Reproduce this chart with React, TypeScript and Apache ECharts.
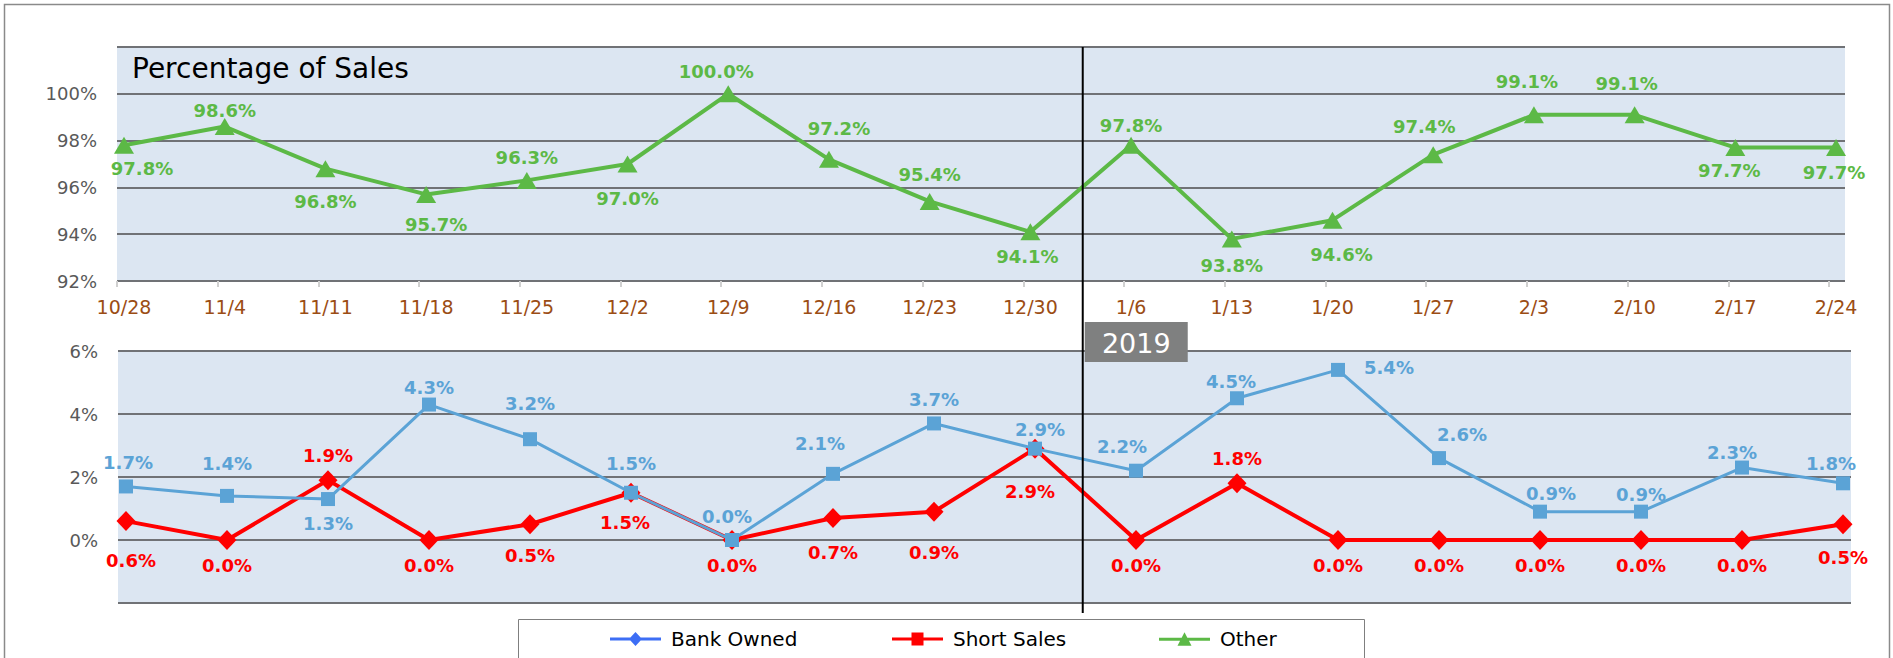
import React, { useEffect, useRef } from 'react';
import * as echarts from 'echarts';

const categories = ['10/28', '11/4', '11/11', '11/18', '11/25', '12/2', '12/9', '12/16', '12/23', '12/30', '1/6', '1/13', '1/20', '1/27', '2/3', '2/10', '2/17', '2/24'];
const otherValues = [97.8, 98.6, 96.8, 95.7, 96.3, 97.0, 100.0, 97.2, 95.4, 94.1, 97.8, 93.8, 94.6, 97.4, 99.1, 99.1, 97.7, 97.7];
const bankOwnedValues = [1.7, 1.4, 1.3, 4.3, 3.2, 1.5, 0.0, 2.1, 3.7, 2.9, 2.2, 4.5, 5.4, 2.6, 0.9, 0.9, 2.3, 1.8];
const shortSalesValues = [0.6, 0.0, 1.9, 0.0, 0.5, 1.5, 0.0, 0.7, 0.9, 2.9, 0.0, 1.8, 0.0, 0.0, 0.0, 0.0, 0.0, 0.5];

const otherLabelPos = ['bottom', 'top', 'bottom', 'bottom', 'top', 'bottom', 'top', 'top', 'top', 'bottom', 'top', 'bottom', 'bottom', 'top', 'top', 'top', 'bottom', 'bottom'];
const bankLabelPos = ['top', 'top', 'bottom', 'top', 'top', 'top', 'top', 'top', 'top', 'top', 'top', 'top', 'right', 'top', 'top', 'top', 'top', 'top'];
const shortLabelPos = ['bottom', 'bottom', 'top', 'bottom', 'bottom', 'bottom', 'bottom', 'bottom', 'bottom', 'bottom', 'bottom', 'top', 'bottom', 'bottom', 'bottom', 'bottom', 'bottom', 'bottom'];

// small label nudges (dx, dy) to mimic the original label placement
const otherLabelShift: Record<number, number[]> = {
  0: [18, -1], 1: [0, 8], 2: [0, 8], 3: [10, 6], 4: [0, 2], 5: [0, 10], 6: [-12, 2], 7: [10, -6], 8: [0, -2],
  9: [-3, 0], 10: [0, 5], 11: [0, 2], 12: [9, 10], 13: [-9, -4], 14: [-7, -9], 15: [-8, -7], 16: [-6, -2], 17: [-2, 0],
};
const bankLabelShift: Record<number, number[]> = {
  0: [2, 0], 1: [0, -8], 3: [0, 7], 4: [0, -12], 5: [0, -5], 6: [-5, 0], 7: [-13, -6], 9: [5, 5], 10: [-14, 0],
  11: [-6, 7], 12: [11, -2], 13: [23, 0], 14: [11, 6], 15: [0, 7], 16: [-10, 9], 17: [-12, 4],
};
const shortLabelShift: Record<number, number[]> = {
  0: [5, 14], 4: [0, 6], 5: [-6, 5], 7: [0, 10], 8: [0, 16], 9: [-5, 18], 17: [0, 8],
};

const yearLabel = '2019';
const yearDivider = 9.52;

const FONT = '"DejaVu Sans", sans-serif';
const GREEN = '#5cb946';
const BLUE = '#5ba3d6';
const RED = '#ff0000';
const GRID_LINE = '#707276';
const BG = '#dce6f2';

const BAR = 'M0,5.5H51V8.5H0Z ';
const ICON_DIAMOND = 'path://' + BAR + 'M25.5,0L32,7L25.5,14L19,7Z';
const ICON_SQUARE = 'path://' + BAR + 'M19.5,0.5H31.5V13.5H19.5Z';
const ICON_TRIANGLE = 'path://' + BAR + 'M25.5,0L32.5,13.5H18.5Z';

function makeData(values: number[], pos: string[], shifts: Record<number, number[]>) {
  return values.map((v, i) => ({
    value: [i, v],
    label: { position: pos[i], offset: shifts[i] || [0, 0] },
  }));
}

const labelBase = (color: string, distance: number) => ({
  show: true,
  formatter: (p: any) => p.value[1].toFixed(1) + '%',
  color,
  fontSize: 18,
  fontWeight: 'bold',
  fontFamily: FONT,
  distance,
});

const legendBase = (left: number) => ({
  left,
  top: 629,
  padding: 0,
  itemWidth: 51,
  itemHeight: 14,
  selectedMode: false,
  textStyle: { fontSize: 20, color: '#000', fontFamily: FONT, padding: [0, 0, 0, 5] },
});

export default function App() {
  const ref = useRef<HTMLDivElement>(null);
  useEffect(() => {
    if (!ref.current) return;
    const chart = echarts.init(ref.current, undefined, { renderer: 'svg' });
    const option: any = {
      animation: false,
      textStyle: { fontFamily: FONT },
      title: {
        text: 'Percentage of Sales',
        left: 132,
        top: 54,
        padding: 0,
        textStyle: { fontSize: 28, fontWeight: 'normal', color: '#000', fontFamily: FONT },
      },
      grid: [
        { left: 117, top: 47, width: 1728, height: 234, show: true, backgroundColor: BG, borderWidth: 0 },
        { left: 118, top: 351, width: 1733, height: 252, show: true, backgroundColor: BG, borderWidth: 0 },
      ],
      xAxis: [
        {
          type: 'value',
          gridIndex: 0,
          min: -0.0695,
          max: 17.089,
          splitLine: { show: false },
          axisLine: { show: false },
          axisTick: {
            show: true,
            customValues: categories.map((_, i) => i - 0.0695),
            length: 6,
            lineStyle: { color: '#d0d0d0', width: 2 },
          },
          axisLabel: {
            customValues: categories.map((_, i) => i),
            formatter: (v: number) => categories[Math.round(v)] ?? '',
            color: '#9b4d14',
            fontSize: 19,
            margin: 16,
            fontFamily: FONT,
          },
        },
        { type: 'value', gridIndex: 1, min: -0.079, max: 17.079, show: false },
      ],
      yAxis: [
        {
          type: 'value',
          gridIndex: 0,
          min: 92,
          max: 102,
          interval: 2,
          axisLine: { show: false },
          axisTick: { show: false },
          axisLabel: {
            formatter: (v: number) => (v >= 102 ? '' : v + '%'),
            color: '#595959',
            fontSize: 18,
            margin: 20,
            fontFamily: FONT,
          },
          splitLine: { lineStyle: { color: GRID_LINE, width: 2 } },
        },
        {
          type: 'value',
          gridIndex: 1,
          min: -2,
          max: 6,
          interval: 2,
          axisLine: { show: false },
          axisTick: { show: false },
          axisLabel: {
            formatter: (v: number) => (v < 0 ? '' : v + '%'),
            color: '#595959',
            fontSize: 18,
            margin: 20,
            fontFamily: FONT,
          },
          splitLine: { lineStyle: { color: GRID_LINE, width: 2 } },
        },
      ],
      legend: [
        { ...legendBase(610), data: [{ name: 'Bank Owned', icon: ICON_DIAMOND, itemStyle: { color: '#3d6ef5', borderWidth: 0 } }] },
        { ...legendBase(892), data: [{ name: 'Short Sales', icon: ICON_SQUARE, itemStyle: { color: RED, borderWidth: 0 } }] },
        { ...legendBase(1159), data: [{ name: 'Other', icon: ICON_TRIANGLE, itemStyle: { color: GREEN, borderWidth: 0 } }] },
      ],
      series: [
        {
          name: 'Bank Owned',
          type: 'line',
          xAxisIndex: 1,
          yAxisIndex: 1,
          z: 4,
          data: makeData(bankOwnedValues, bankLabelPos, bankLabelShift),
          symbol: 'rect',
          symbolSize: 14,
          lineStyle: { color: BLUE, width: 3 },
          itemStyle: { color: BLUE },
          label: labelBase(BLUE, 8),
        },
        {
          name: 'Short Sales',
          type: 'line',
          xAxisIndex: 1,
          yAxisIndex: 1,
          z: 3,
          data: makeData(shortSalesValues, shortLabelPos, shortLabelShift),
          symbol: 'diamond',
          symbolSize: [19, 20],
          lineStyle: { color: RED, width: 4 },
          itemStyle: { color: RED },
          label: labelBase(RED, 6),
        },
        {
          name: 'Other',
          type: 'line',
          xAxisIndex: 0,
          yAxisIndex: 0,
          z: 3,
          data: makeData(otherValues, otherLabelPos, otherLabelShift),
          symbol: 'triangle',
          symbolSize: [20, 17],
          lineStyle: { color: GREEN, width: 4 },
          itemStyle: { color: GREEN },
          label: labelBase(GREEN, 7),
        },
      ],
    };
    chart.setOption(option);

    const xDiv = chart.convertToPixel({ xAxisIndex: 0 } as any, yearDivider) as number;
    const yTop = chart.convertToPixel({ yAxisIndex: 0 } as any, 102) as number;
    const yBot = chart.convertToPixel({ yAxisIndex: 1 } as any, -2) as number;

    chart.setOption({
      graphic: [
        {
          type: 'rect',
          silent: true,
          z: 0,
          shape: { x: 4.5, y: 4.5, width: 1885, height: 700 },
          style: { fill: 'none', stroke: '#8a8a8a', lineWidth: 1.5 },
        },
        {
          type: 'rect',
          silent: true,
          z: 0,
          shape: { x: 518.5, y: 619.5, width: 846, height: 60 },
          style: { fill: 'none', stroke: '#7f7f7f', lineWidth: 1 },
        },
        {
          type: 'line',
          silent: true,
          z: 20,
          shape: { x1: xDiv, y1: yTop, x2: xDiv, y2: yBot + 10 },
          style: { stroke: '#000', lineWidth: 2 },
        },
        {
          type: 'rect',
          silent: true,
          z: 20,
          shape: { x: xDiv + 2, y: 322, width: 103, height: 40 },
          style: { fill: '#7f8080' },
        },
        {
          type: 'text',
          silent: true,
          z: 21,
          x: xDiv + 2 + 51.5,
          y: 343,
          style: { text: yearLabel, fill: '#fff', font: `27px ${FONT}`, align: 'center', verticalAlign: 'middle' },
        },
      ],
    });

    return () => chart.dispose();
  }, []);
  return <div ref={ref} style={{ position: 'fixed', left: 0, top: 0, width: 1893, height: 658, background: '#fff' }} />;
}
